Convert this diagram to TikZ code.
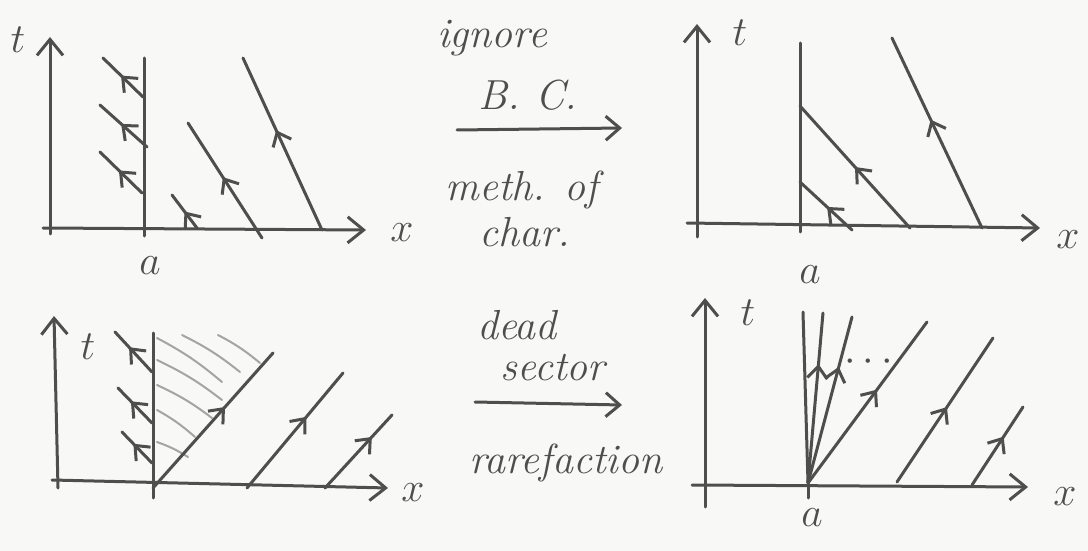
\documentclass[tikz,border=0pt]{standalone}
\usepackage{amsmath}
\usepackage{xcolor}
\usepackage{tikz}
\usetikzlibrary{arrows.meta,decorations.markings}
\definecolor{pencil}{HTML}{4E4E4E}
\definecolor{hatchgray}{HTML}{A4A4A4}
\definecolor{paper}{HTML}{F8F8F6}

\begin{document}
\begin{tikzpicture}[x=0.5pt,y=-0.5pt,
    pencil line/.style={pencil, line width=1.5pt, line cap=round},
    axis/.style={pencil line, -{Straight Barb[length=8pt,width=13pt]}},
    midarrow/.style={postaction={decorate}, decoration={markings,
        mark=at position #1 with {\arrow{Straight Barb[length=6pt,width=10pt]}}}},
    lbl/.style={pencil, font=\fontsize{22}{26}\selectfont},
    hand/.style={pencil, font=\fontsize{21}{25}\selectfont\itshape}]
    \fill[paper] (0,0) rectangle (1088,551);
    \useasboundingbox (0,0) rectangle (1088,551);

    % top left: boundary at x=a, characteristics going left
    \draw[axis] (50,234) -- (50,37);
    \draw[axis] (43,228) -- (366,230);
    \draw[pencil line] (144,58) -- (144,236);
    \node[lbl] (t1) at (18,40) {$t$};
    \node[lbl] (x1) at (402,233) {$x$};
    \node[lbl] (a1) at (150,266) {$a$};
    \foreach \xs/\ys/\xe/\ye/\p in {143/97/103/58/0.55, 147/147/100/105/0.55, 142/193/100/152/0.55,
        197/228/172/195/0.5, 262/238/188/123/0.53, 322/230/243/58/0.58} {
        \draw[pencil line, midarrow=\p] (\xs,\ys) -- (\xe,\ye);
    }

    % top right
    \draw[axis] (697,237) -- (697,24);
    \draw[axis] (687,223) -- (1040,228);
    \draw[pencil line] (800,43) -- (800,232);
    \node[lbl] (t2) at (740,33) {$t$};
    \node[lbl] (x2) at (1068,240) {$x$};
    \node[lbl] (a2) at (810,275) {$a$};
    \foreach \xs/\ys/\xe/\ye/\p in {910/228/800/106/0.5, 852/230/800/182/0.48, 982/228/892/38/0.57} {
        \draw[pencil line, midarrow=\p] (\xs,\ys) -- (\xe,\ye);
    }

    % bottom left: dead sector
    \foreach \xs/\ys/\xe/\ye in {182/335/240/372, 218/335/260/363, 157/338/222/382, 157/360/222/400,
        157/385/212/418, 157/410/195/437, 157/442/188/457} {
        \draw[hatchgray, line width=1pt, line cap=round] (\xs,\ys) to[bend left=6] (\xe,\ye);
    }
    \draw[axis] (58,488) -- (54,316);
    \draw[axis] (52,480) -- (388,488);
    \draw[pencil line] (153,333) -- (153,498);
    \node[lbl] (t3) at (88,347) {$t$};
    \node[lbl] (x3) at (413,493) {$x$};
    \foreach \xs/\ys/\xe/\ye/\p in {152/372/115/332/0.62, 152/423/118/388/0.62, 152/463/122/432/0.62,
        153/488/273/353/0.6, 247/488/343/373/0.62, 325/488/392/415/0.7} {
        \draw[pencil line, midarrow=\p] (\xs,\ys) -- (\xe,\ye);
    }

    % bottom right: rarefaction fan
    \draw[axis] (705,507) -- (705,298);
    \draw[axis] (692,485) -- (1028,487);
    \draw[pencil line] (808,484) -- (808,498);
    \node[lbl] (t4) at (748,313) {$t$};
    \node[lbl] (x4) at (1065,497) {$x$};
    \node[lbl] (a4) at (812,518) {$a$};
    \coordinate (fan) at (808,483);
    \draw[pencil line] (fan) -- (803,312);
    \foreach \xe/\ye/\p in {823/313/0.7, 852/317/0.7, 927/322/0.58} {
        \draw[pencil line, midarrow=\p] (fan) -- (\xe,\ye);
    }
    \node[lbl] (dots) at (872,362) {$\cdots$};
    \foreach \xs/\ys/\xe/\ye/\p in {897/482/993/338/0.52, 972/485/1023/407/0.62} {
        \draw[pencil line, midarrow=\p] (\xs,\ys) -- (\xe,\ye);
    }

    % middle arrows and words
    \node[hand] (ign) at (492,38) {ignore};
    \node[hand] (bc) at (528,95) {B. C.};
    \coordinate (ta) at (457,130);
    \coordinate (tb) at (622,128);
    \draw[pencil line, -{Straight Barb[length=7pt,width=12pt]}] (ta) -- (tb);
    \node[hand] (meth) at (522,190) {meth. of};
    \node[hand] (chr) at (525,232) {char.};

    \node[hand] (dead) at (517,325) {dead};
    \node[hand] (sect) at (553,368) {sector};
    \coordinate (ba) at (475,402);
    \coordinate (bb) at (622,405);
    \draw[pencil line, -{Straight Barb[length=7pt,width=12pt]}] (ba) -- (bb);
    \node[hand] (rare) at (566,463) {rarefaction};
\end{tikzpicture}
\end{document}
